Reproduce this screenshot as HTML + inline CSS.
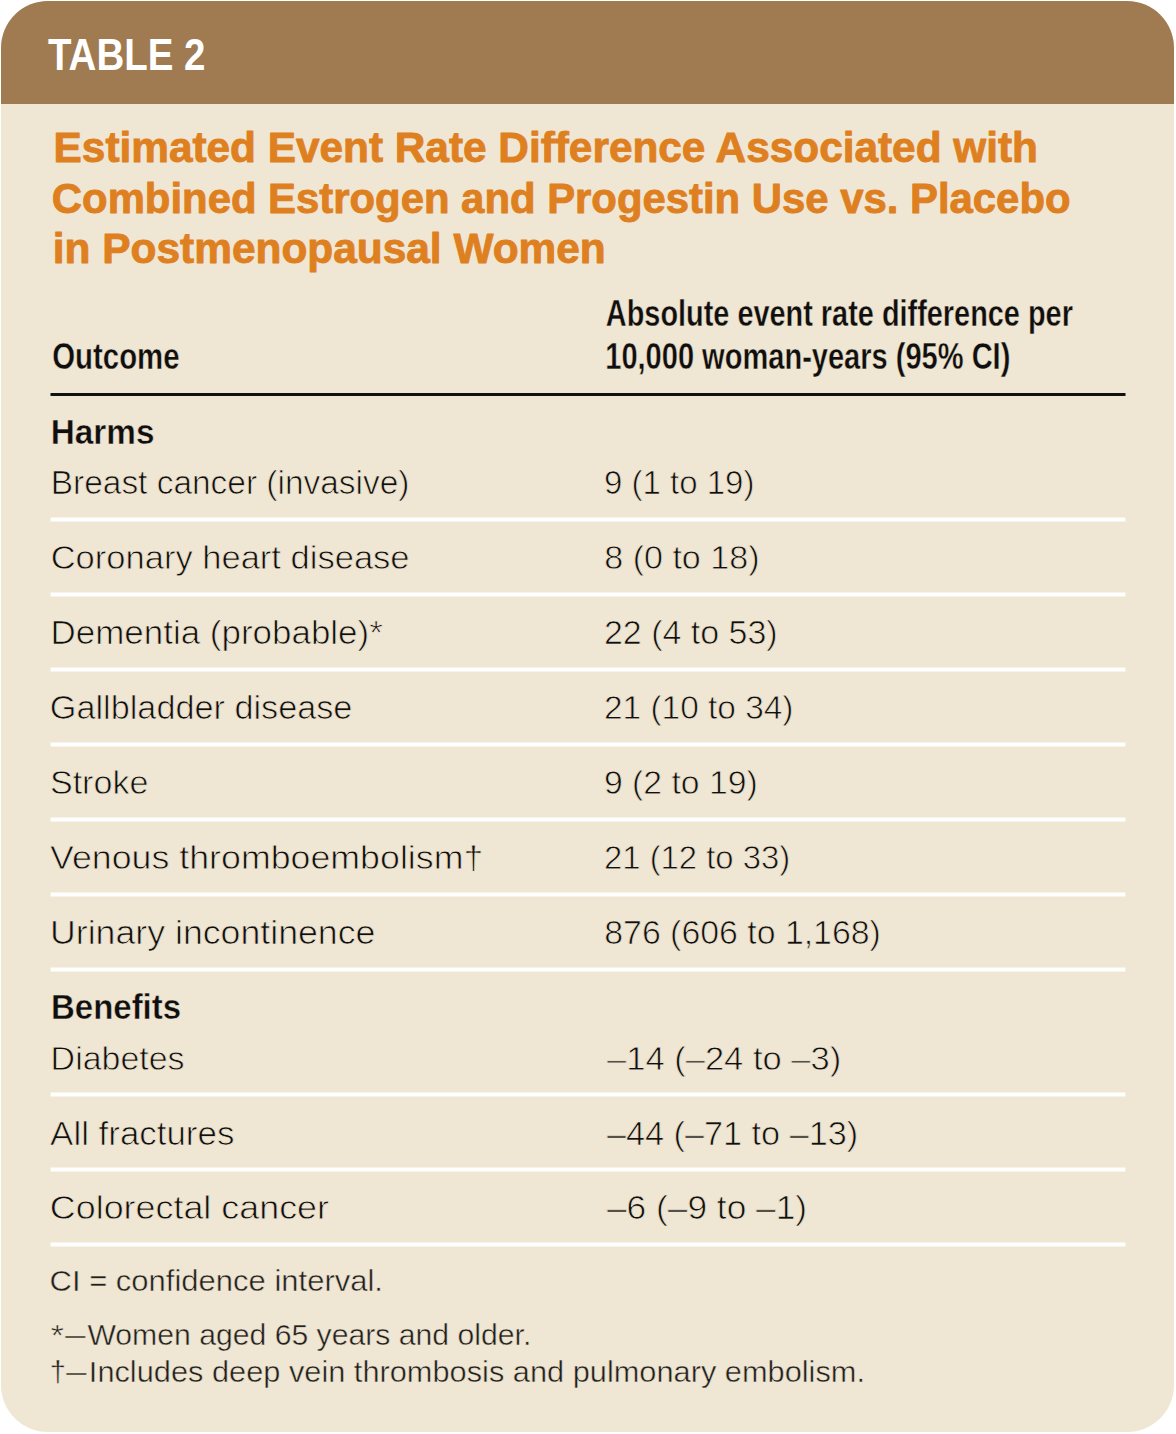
<!DOCTYPE html>
<html lang="en">
<head>
<meta charset="utf-8">
<title>Table 2: Estimated Event Rate Difference Associated with Combined Estrogen and Progestin Use vs. Placebo in Postmenopausal Women</title>
<style>
html,body{margin:0;padding:0;background:#ffffff;}
body{width:1176px;height:1434px;overflow:hidden;}
svg{display:block;}
text{white-space:pre;font-family:"Liberation Sans",Arial,sans-serif;}
</style>
</head>
<body>
<svg width="1176" height="1434" viewBox="0 0 1176 1434">
<rect x="1" y="1" width="1173" height="1431" rx="47" ry="47" fill="#efe6d3"/>
<path d="M1,104 L1,48 A47,47 0 0 1 48,1 L1127,1 A47,47 0 0 1 1174,48 L1174,104 Z" fill="#a07b52"/>
<rect x="50.5" y="393" width="1075" height="3" fill="#121012"/>
<rect x='50.5' y='517.5' width='1075' height='4' fill='#ffffff'/>
<rect x='50.5' y='592.5' width='1075' height='4' fill='#ffffff'/>
<rect x='50.5' y='667.5' width='1075' height='4' fill='#ffffff'/>
<rect x='50.5' y='742.5' width='1075' height='4' fill='#ffffff'/>
<rect x='50.5' y='817.5' width='1075' height='4' fill='#ffffff'/>
<rect x='50.5' y='892.5' width='1075' height='4' fill='#ffffff'/>
<rect x='50.5' y='967.5' width='1075' height='4' fill='#ffffff'/>
<rect x='50.5' y='1092.5' width='1075' height='4' fill='#ffffff'/>
<rect x='50.5' y='1167.5' width='1075' height='4' fill='#ffffff'/>
<rect x='50.5' y='1242.5' width='1075' height='4' fill='#ffffff'/>
<text transform='matrix(0.8748,0,0,1,47.96,69.5)' font-weight='700' font-size='44' fill='#ffffff'>TABLE 2</text>
<text transform='matrix(0.9940,0,0,1,53.61,162.4)' font-weight='700' font-size='42.6' fill='#de801f' stroke='#de801f' stroke-width='0.9' stroke-linejoin='round'>Estimated Event Rate Difference Associated with</text>
<text transform='matrix(0.9829,0,0,1,51.87,212.5)' font-weight='700' font-size='42.6' fill='#de801f' stroke='#de801f' stroke-width='0.9' stroke-linejoin='round'>Combined Estrogen and Progestin Use vs. Placebo</text>
<text transform='matrix(0.9957,0,0,1,52.81,262.5)' font-weight='700' font-size='42.6' fill='#de801f' stroke='#de801f' stroke-width='0.9' stroke-linejoin='round'>in Postmenopausal Women</text>
<text transform='matrix(0.7807,0,0,1,605.82,326.1)' font-weight='700' font-size='37' fill='#100e0f' stroke='#efe6d3' stroke-width='0.4' stroke-linejoin='round'>Absolute event rate difference per</text>
<text transform='matrix(0.7851,0,0,1,605.24,368.8)' font-weight='700' font-size='37' fill='#100e0f' stroke='#efe6d3' stroke-width='0.4' stroke-linejoin='round'>10,000 woman-years (95% CI)</text>
<text transform='matrix(0.7943,0,0,1,52.21,368.8)' font-weight='700' font-size='37' fill='#100e0f' stroke='#efe6d3' stroke-width='0.4' stroke-linejoin='round'>Outcome</text>
<text transform='matrix(0.9689,0,0,1,50.78,444.3)' font-weight='700' font-size='34.4' fill='#100e0f' stroke='#efe6d3' stroke-width='0.4' stroke-linejoin='round'>Harms</text>
<text transform='matrix(0.9589,0,0,1,51.00,1019.2)' font-weight='700' font-size='34.4' fill='#100e0f' stroke='#efe6d3' stroke-width='0.4' stroke-linejoin='round'>Benefits</text>
<text transform='matrix(0.9955,0,0,1,50.76,494.2)' font-weight='400' font-size='33.6' fill='#100e0f' stroke='#efe6d3' stroke-width='0.75' stroke-linejoin='round'>Breast cancer (invasive)</text>
<text transform='matrix(0.9825,0,0,1,604.04,494.2)' font-weight='400' font-size='33.6' fill='#100e0f' stroke='#efe6d3' stroke-width='0.75' stroke-linejoin='round'>9 (1 to 19)</text>
<text transform='matrix(1.0280,0,0,1,50.64,569.2)' font-weight='400' font-size='33.6' fill='#100e0f' stroke='#efe6d3' stroke-width='0.75' stroke-linejoin='round'>Coronary heart disease</text>
<text transform='matrix(1.0138,0,0,1,604.23,569.2)' font-weight='400' font-size='33.6' fill='#100e0f' stroke='#efe6d3' stroke-width='0.75' stroke-linejoin='round'>8 (0 to 18)</text>
<text transform='matrix(1.0408,0,0,1,50.52,644.3)' font-weight='400' font-size='33.6' fill='#100e0f' stroke='#efe6d3' stroke-width='0.75' stroke-linejoin='round'>Dementia (probable)*</text>
<text transform='matrix(1.0111,0,0,1,603.98,644.3)' font-weight='400' font-size='33.6' fill='#100e0f' stroke='#efe6d3' stroke-width='0.75' stroke-linejoin='round'>22 (4 to 53)</text>
<text transform='matrix(1.0191,0,0,1,49.86,719.2)' font-weight='400' font-size='33.6' fill='#100e0f' stroke='#efe6d3' stroke-width='0.75' stroke-linejoin='round'>Gallbladder disease</text>
<text transform='matrix(0.9946,0,0,1,604.01,719.2)' font-weight='400' font-size='33.6' fill='#100e0f' stroke='#efe6d3' stroke-width='0.75' stroke-linejoin='round'>21 (10 to 34)</text>
<text transform='matrix(1.0139,0,0,1,49.92,794.2)' font-weight='400' font-size='33.6' fill='#100e0f' stroke='#efe6d3' stroke-width='0.75' stroke-linejoin='round'>Stroke</text>
<text transform='matrix(1.0040,0,0,1,603.99,794.2)' font-weight='400' font-size='33.6' fill='#100e0f' stroke='#efe6d3' stroke-width='0.75' stroke-linejoin='round'>9 (2 to 19)</text>
<text transform='matrix(1.0642,0,0,1,50.10,869.2)' font-weight='400' font-size='33.6' fill='#100e0f' stroke='#efe6d3' stroke-width='0.75' stroke-linejoin='round'>Venous thromboembolism†</text>
<text transform='matrix(0.9769,0,0,1,604.05,869.2)' font-weight='400' font-size='33.6' fill='#100e0f' stroke='#efe6d3' stroke-width='0.75' stroke-linejoin='round'>21 (12 to 33)</text>
<text transform='matrix(1.0629,0,0,1,50.01,944.2)' font-weight='400' font-size='33.6' fill='#100e0f' stroke='#efe6d3' stroke-width='0.75' stroke-linejoin='round'>Urinary incontinence</text>
<text transform='matrix(1.0076,0,0,1,604.24,944.2)' font-weight='400' font-size='33.6' fill='#100e0f' stroke='#efe6d3' stroke-width='0.75' stroke-linejoin='round'>876 (606 to 1,168)</text>
<text transform='matrix(1.0106,0,0,1,50.62,1069.5)' font-weight='400' font-size='33.6' fill='#100e0f' stroke='#efe6d3' stroke-width='0.75' stroke-linejoin='round'>Diabetes</text>
<text transform='matrix(1.0278,0,0,1,606.99,1069.5)' font-weight='400' font-size='33.6' fill='#100e0f' stroke='#efe6d3' stroke-width='0.75' stroke-linejoin='round'>–14 (–24 to –3)</text>
<text transform='matrix(1.0389,0,0,1,50.12,1144.5)' font-weight='400' font-size='33.6' fill='#100e0f' stroke='#efe6d3' stroke-width='0.75' stroke-linejoin='round'>All fractures</text>
<text transform='matrix(1.0189,0,0,1,606.99,1144.5)' font-weight='400' font-size='33.6' fill='#100e0f' stroke='#efe6d3' stroke-width='0.75' stroke-linejoin='round'>–44 (–71 to –13)</text>
<text transform='matrix(1.0682,0,0,1,49.81,1219.4)' font-weight='400' font-size='33.6' fill='#100e0f' stroke='#efe6d3' stroke-width='0.75' stroke-linejoin='round'>Colorectal cancer</text>
<text transform='matrix(1.0507,0,0,1,606.97,1219.4)' font-weight='400' font-size='33.6' fill='#100e0f' stroke='#efe6d3' stroke-width='0.75' stroke-linejoin='round'>–6 (–9 to –1)</text>
<text transform='matrix(1.0619,0,0,1,49.54,1291.4)' font-weight='400' font-size='29.2' fill='#221e1f' stroke='#efe6d3' stroke-width='0.45' stroke-linejoin='round'>CI = confidence interval.</text>
<text transform='matrix(1.1487,0,0,1,50.64,1345.2)' font-weight='400' font-size='29.2' fill='#221e1f' stroke='#efe6d3' stroke-width='0.45' stroke-linejoin='round'>*</text>
<text transform='matrix(0.6887,0,0,1,65.23,1345.2)' font-weight='400' font-size='29.2' fill='#221e1f' stroke='#efe6d3' stroke-width='0.45' stroke-linejoin='round'>—</text>
<text transform='matrix(1.0333,0,0,1,87.38,1345.2)' font-weight='400' font-size='29.2' fill='#221e1f' stroke='#efe6d3' stroke-width='0.45' stroke-linejoin='round'>Women aged 65 years and older.</text>
<text transform='matrix(0.9957,0,0,1,49.76,1382.3)' font-weight='400' font-size='29.2' fill='#221e1f' stroke='#efe6d3' stroke-width='0.45' stroke-linejoin='round'>†</text>
<text transform='matrix(0.6887,0,0,1,66.23,1382.3)' font-weight='400' font-size='29.2' fill='#221e1f' stroke='#efe6d3' stroke-width='0.45' stroke-linejoin='round'>—</text>
<text transform='matrix(1.0536,0,0,1,88.84,1382.3)' font-weight='400' font-size='29.2' fill='#221e1f' stroke='#efe6d3' stroke-width='0.45' stroke-linejoin='round'>Includes deep vein thrombosis and pulmonary embolism.</text>
</svg>
</body>
</html>
